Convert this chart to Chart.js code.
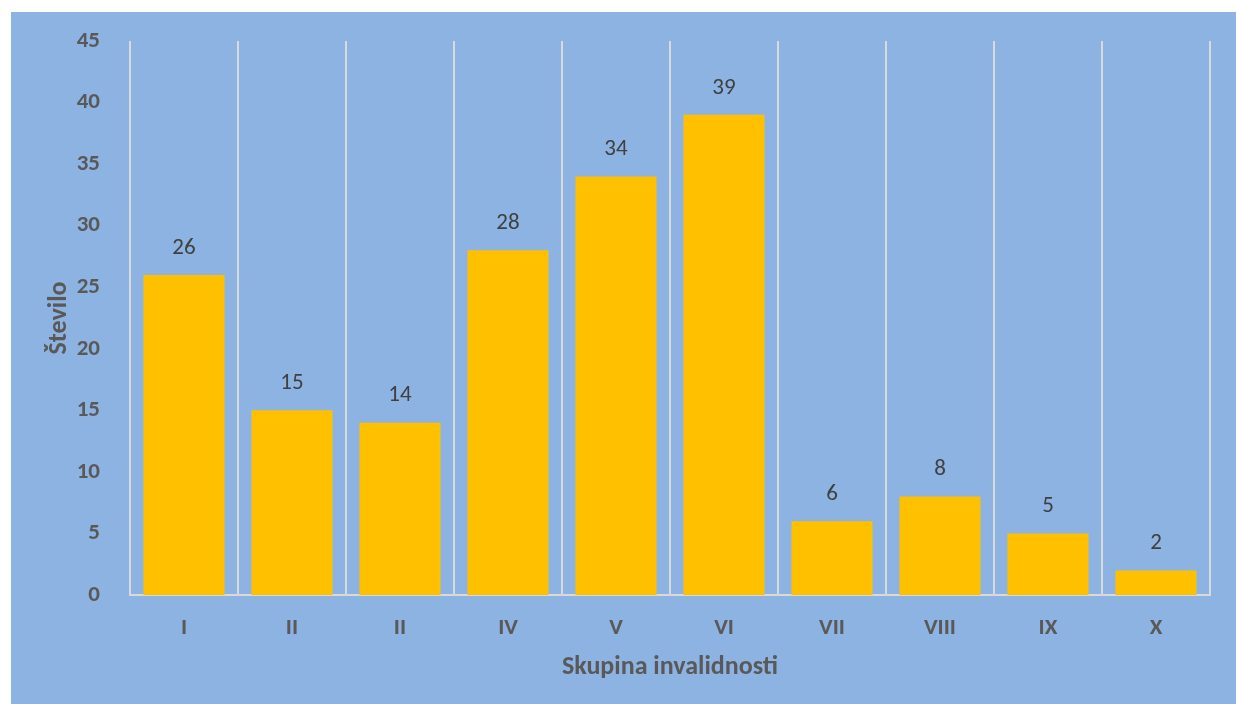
<!DOCTYPE html>
<html>
<head>
<meta charset="utf-8">
<script src="https://cdn.jsdelivr.net/npm/chart.js@4/dist/chart.umd.min.js"></script>
<style>
body{margin:0;background:#fff;}
#wrap{position:absolute;left:11px;top:12px;width:1225px;height:692px;background:#8DB3E2;}
</style>
</head>
<body>
<div id="wrap"><canvas id="chart"></canvas></div>
<script>

/* DATA */

const categories=["I","II","II","IV","V","VI","VII","VIII","IX","X"]
const values=[26,15,14,28,34,39,6,8,5,2]
const yTicks=[0,5,10,15,20,25,30,35,40,45]

const FONT="Calibri, Carlito, 'Liberation Sans', sans-serif"


/* VALUE LABELS ABOVE BARS */

const valueLabels={
id:"valueLabels",
afterDatasetsDraw(chart){
const ctx=chart.ctx
const meta=chart.getDatasetMeta(0)
ctx.save()
ctx.font="23px "+FONT
ctx.fillStyle="#404040"
ctx.textAlign="center"
ctx.textBaseline="middle"
meta.data.forEach((bar,i)=>{
ctx.fillText(values[i],bar.x,bar.y-27)
})
ctx.restore()
}
}


const ctx=document.getElementById("chart").getContext("2d")

new Chart(ctx,{
type:"bar",
data:{
labels:categories,
datasets:[{
data:values,
backgroundColor:"#FFC000",
barPercentage:0.75,
categoryPercentage:1
}]
},
options:{
responsive:true,
maintainAspectRatio:false,
animation:false,
layout:{padding:{left:30,top:29,right:26,bottom:20}},
plugins:{legend:{display:false},tooltip:{enabled:false}},
scales:{
x:{
afterFit(axis){axis.height=89},
grid:{display:true,offset:true,color:"#D9D9D9",lineWidth:2,drawTicks:false},
border:{display:true,color:"#D9D9D9",width:2},
ticks:{color:"#595959",font:{size:23,weight:"bold",family:FONT},padding:19},
title:{display:true,text:"Skupina invalidnosti",color:"#595959",font:{size:26,weight:"bold",family:FONT},padding:{top:10,bottom:1}}
},
y:{
min:0,max:45,
afterBuildTicks(axis){axis.ticks=yTicks.map(v=>({value:v}))},
afterFit(axis){axis.width=89;axis.paddingTop=0;axis.paddingBottom=0},
grid:{display:false},
border:{display:false},
ticks:{color:"#595959",font:{size:23,weight:"bold",family:FONT},padding:22},
title:{display:true,text:"Število",color:"#595959",font:{size:26,weight:"bold",family:FONT},padding:{top:3,bottom:0}}
}
}
},
plugins:[valueLabels]
})

</script>
</body>
</html>
